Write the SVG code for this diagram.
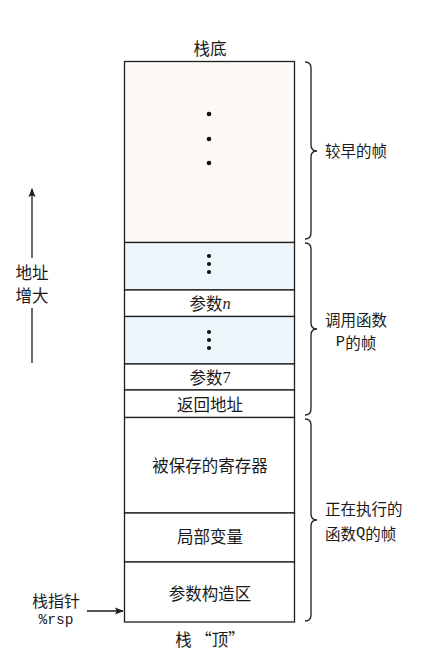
<svg xmlns="http://www.w3.org/2000/svg" width="428" height="654" viewBox="0 0 428 654">
<defs>
<style>
.t{font-family:"Noto Sans CJK SC","Liberation Sans",sans-serif;font-size:16.5px;fill:#1a1a1a;text-anchor:middle;dominant-baseline:central}
.r{font-family:"Noto Sans CJK SC","Liberation Sans",sans-serif;font-size:15.5px;fill:#1a1a1a;dominant-baseline:central}
.m{font-family:"Liberation Mono",monospace}
.i{font-family:"Liberation Serif",serif;font-style:italic}
.sf{font-family:"Liberation Serif",serif}
.cell{stroke:#1e1e1e;stroke-width:1.3}
.brace{fill:none;stroke:#1e1e1e;stroke-width:1.3}
.dot{fill:#111}
</style>
<marker id="ah" viewBox="0 0 10 10" refX="9" refY="5" markerWidth="9" markerHeight="9" markerUnits="userSpaceOnUse" orient="auto">
<path d="M0,1 L10,5 L0,9 L2,5 Z" fill="#1e1e1e"/>
</marker>
</defs>
<rect width="428" height="654" fill="#ffffff"/>
<text class="t" x="210" y="48">栈底</text>
<g id="earlier">
<rect class="cell" x="124.5" y="61.5" width="170" height="181" fill="#fcf9f6"/>
<circle class="dot" cx="209" cy="114" r="2.3"/>
<circle class="dot" cx="209" cy="139" r="2.3"/>
<circle class="dot" cx="209" cy="163" r="2.3"/>
</g>
<g id="p-more">
<rect class="cell" x="124.5" y="242.5" width="170" height="47.5" fill="#edf6fa"/>
<circle class="dot" cx="209" cy="256" r="2.1"/>
<circle class="dot" cx="209" cy="264" r="2.1"/>
<circle class="dot" cx="209" cy="272" r="2.1"/>
</g>
<g id="arg-n">
<rect class="cell" x="124.5" y="290" width="170" height="26.5" fill="#ffffff"/>
<text class="t" x="210" y="303">参数<tspan class="i">n</tspan></text>
</g>
<g id="p-more2">
<rect class="cell" x="124.5" y="316.5" width="170" height="47.5" fill="#edf6fa"/>
<circle class="dot" cx="209" cy="332" r="2.1"/>
<circle class="dot" cx="209" cy="340" r="2.1"/>
<circle class="dot" cx="209" cy="348" r="2.1"/>
</g>
<g id="arg-7">
<rect class="cell" x="124.5" y="364" width="170" height="26" fill="#ffffff"/>
<text class="t" x="210" y="377">参数<tspan class="sf">7</tspan></text>
</g>
<g id="ret">
<rect class="cell" x="124.5" y="390" width="170" height="27.5" fill="#ffffff"/>
<text class="t" x="210" y="404">返回地址</text>
</g>
<g id="saved">
<rect class="cell" x="124.5" y="417.5" width="170" height="95.5" fill="#ffffff"/>
<text class="t" x="210" y="465">被保存的寄存器</text>
</g>
<g id="locals">
<rect class="cell" x="124.5" y="513" width="170" height="49" fill="#ffffff"/>
<text class="t" x="210" y="536">局部变量</text>
</g>
<g id="argbuild">
<rect class="cell" x="124.5" y="562" width="170" height="60" fill="#ffffff"/>
<text class="t" x="210" y="593">参数构造区</text>
</g>
<text class="t" x="210" y="639">栈 “顶”</text>
<g id="left-labels">
<text class="t" x="32" y="272">地址</text>
<text class="t" x="32" y="295">增大</text>
<text class="t" x="56" y="600" style="font-size:16px">栈指针</text>
<text class="t m" x="56" y="620" style="font-size:14.5px">%rsp</text>
</g>
<g id="right-labels">
<text class="r" x="325" y="150">较早的帧</text>
<text class="r" x="356" y="319" text-anchor="middle">调用函数</text>
<text class="r" x="356" y="342" text-anchor="middle"><tspan class="m">P</tspan>的帧</text>
<text class="r" x="325" y="508">正在执行的</text>
<text class="r" x="325" y="533">函数<tspan class="m">Q</tspan>的帧</text>
</g>
<g id="connectors">
<line x1="32" y1="258" x2="32" y2="189" stroke="#1e1e1e" stroke-width="1.3" marker-end="url(#ah)"/>
<line x1="32" y1="308" x2="32" y2="363" stroke="#1e1e1e" stroke-width="1.3"/>
<line x1="87" y1="611" x2="123" y2="611" stroke="#1e1e1e" stroke-width="1.3" marker-end="url(#ah)"/>
<path class="brace" d="M305,62 Q311,62 311,68 L311,145 Q311,151 317,151 Q311,151 311,157 L311,233 Q311,239 305,239"/>
<path class="brace" d="M305,243 Q311,243 311,249 L311,323 Q311,329 317,329 Q311,329 311,335 L311,409 Q311,415 305,415"/>
<path class="brace" d="M305,419 Q311,419 311,425 L311,514 Q311,520 317,520 Q311,520 311,526 L311,615 Q311,621 305,621"/>
</g>
</svg>
